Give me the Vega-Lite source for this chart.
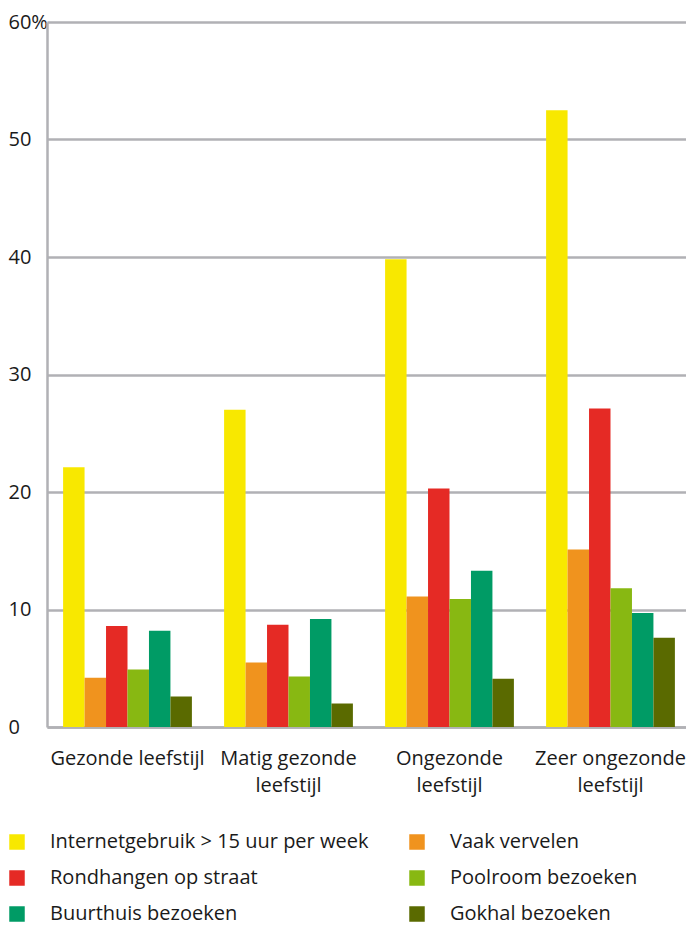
{
  "$schema": "https://vega.github.io/schema/vega-lite/v6.json",
  "width": 644,
  "height": 705,
  "autosize": {"type": "none"},
  "padding": {"left": 47, "top": 22, "right": -5, "bottom": 200},
  "background": "white",
  "config": {
    "font": "Open Sans",
    "view": {"stroke": null},
    "axis": {"labelFont": "Open Sans", "labelColor": "#1a1a1a", "labelFontSize": 20}
  },
  "data": {
    "values": [
      {"groep": "Gezonde leefstijl", "reeks": "Internetgebruik > 15 uur per week", "pct": 22.1},
      {"groep": "Gezonde leefstijl", "reeks": "Vaak vervelen", "pct": 4.2},
      {"groep": "Gezonde leefstijl", "reeks": "Rondhangen op straat", "pct": 8.6},
      {"groep": "Gezonde leefstijl", "reeks": "Poolroom bezoeken", "pct": 4.9},
      {"groep": "Gezonde leefstijl", "reeks": "Buurthuis bezoeken", "pct": 8.2},
      {"groep": "Gezonde leefstijl", "reeks": "Gokhal bezoeken", "pct": 2.6},
      {"groep": "Matig gezonde leefstijl", "reeks": "Internetgebruik > 15 uur per week", "pct": 27.0},
      {"groep": "Matig gezonde leefstijl", "reeks": "Vaak vervelen", "pct": 5.5},
      {"groep": "Matig gezonde leefstijl", "reeks": "Rondhangen op straat", "pct": 8.7},
      {"groep": "Matig gezonde leefstijl", "reeks": "Poolroom bezoeken", "pct": 4.3},
      {"groep": "Matig gezonde leefstijl", "reeks": "Buurthuis bezoeken", "pct": 9.2},
      {"groep": "Matig gezonde leefstijl", "reeks": "Gokhal bezoeken", "pct": 2.0},
      {"groep": "Ongezonde leefstijl", "reeks": "Internetgebruik > 15 uur per week", "pct": 39.8},
      {"groep": "Ongezonde leefstijl", "reeks": "Vaak vervelen", "pct": 11.1},
      {"groep": "Ongezonde leefstijl", "reeks": "Rondhangen op straat", "pct": 20.3},
      {"groep": "Ongezonde leefstijl", "reeks": "Poolroom bezoeken", "pct": 10.9},
      {"groep": "Ongezonde leefstijl", "reeks": "Buurthuis bezoeken", "pct": 13.3},
      {"groep": "Ongezonde leefstijl", "reeks": "Gokhal bezoeken", "pct": 4.1},
      {"groep": "Zeer ongezonde leefstijl", "reeks": "Internetgebruik > 15 uur per week", "pct": 52.5},
      {"groep": "Zeer ongezonde leefstijl", "reeks": "Vaak vervelen", "pct": 15.1},
      {"groep": "Zeer ongezonde leefstijl", "reeks": "Rondhangen op straat", "pct": 27.1},
      {"groep": "Zeer ongezonde leefstijl", "reeks": "Poolroom bezoeken", "pct": 11.8},
      {"groep": "Zeer ongezonde leefstijl", "reeks": "Buurthuis bezoeken", "pct": 9.7},
      {"groep": "Zeer ongezonde leefstijl", "reeks": "Gokhal bezoeken", "pct": 7.6}
    ]
  },
  "mark": {"type": "bar", "width": {"band": 1}},
  "encoding": {
    "x": {
      "field": "groep",
      "type": "nominal",
      "sort": null,
      "scale": {"paddingInner": 0.2, "paddingOuter": 0.1},
      "axis": {
        "title": null,
        "labelAngle": 0,
        "ticks": false,
        "domain": true,
        "domainColor": "#b1b1b5",
        "domainWidth": 2.5,
        "labelPadding": 21,
        "labelBaseline": "top",
        "labelLineHeight": 27,
        "labelExpr": "indexof(datum.value, 'Gezonde') == 0 ? datum.value : [slice(datum.value, 0, -10), 'leefstijl']"
      }
    },
    "xOffset": {
      "field": "reeks",
      "type": "nominal",
      "sort": null,
      "scale": {"paddingInner": 0, "paddingOuter": 0}
    },
    "y": {
      "field": "pct",
      "type": "quantitative",
      "scale": {"domain": [0, 60], "nice": false},
      "axis": {
        "title": null,
        "values": [0, 10, 20, 30, 40, 50, 60],
        "labelExpr": "datum.value == 60 ? '60%' : datum.label",
        "ticks": false,
        "labelAlign": "left",
        "labelPadding": 39,
        "labelBaseline": "middle",
        "grid": true,
        "gridColor": "#b1b1b5",
        "gridWidth": 2.5,
        "domain": true,
        "domainColor": "#b1b1b5",
        "domainWidth": 2.5
      }
    },
    "color": {
      "field": "reeks",
      "type": "nominal",
      "sort": null,
      "scale": {
        "domain": ["Internetgebruik > 15 uur per week", "Vaak vervelen", "Rondhangen op straat", "Poolroom bezoeken", "Buurthuis bezoeken", "Gokhal bezoeken"],
        "range": ["#f8e800", "#f0931e", "#e52a25", "#88b812", "#009b65", "#5a6a00"]
      },
      "legend": {
        "title": null,
        "orient": "none",
        "direction": "horizontal",
        "legendX": -40,
        "legendY": 810,
        "columns": 2,
        "columnPadding": 38,
        "rowPadding": 16,
        "padding": 0,
        "symbolType": "square",
        "symbolSize": 240,
        "symbolStrokeWidth": 0,
        "symbolOpacity": 1,
        "labelOffset": 23,
        "labelFont": "Open Sans",
        "labelFontSize": 20,
        "labelColor": "#1a1a1a",
        "labelLimit": 400
      }
    }
  }
}
